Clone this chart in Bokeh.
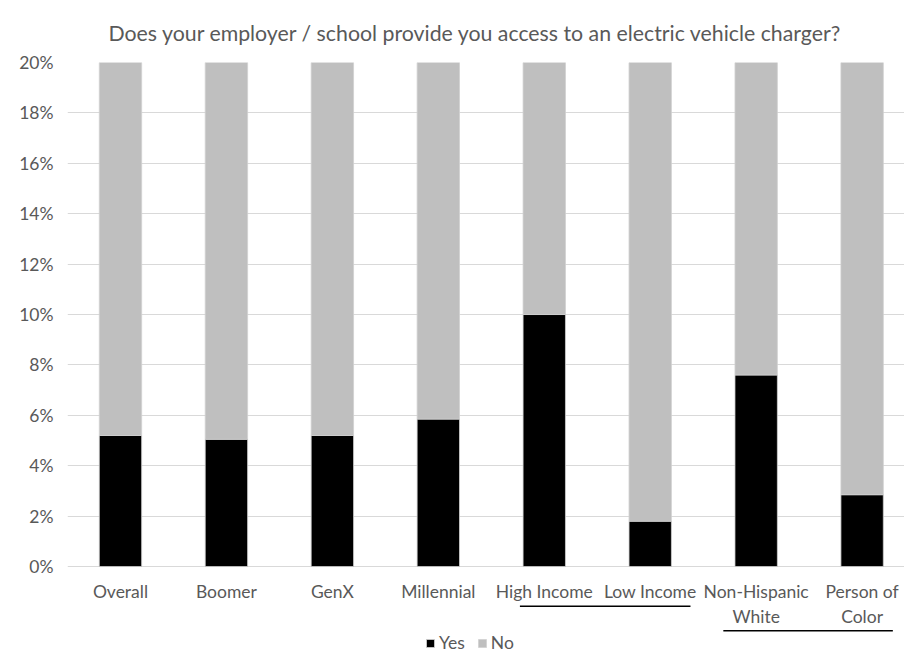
from bokeh.plotting import figure
from bokeh.models import (ColumnDataSource, Range1d, FixedTicker, Legend, LegendItem,
                          PrintfTickFormatter)
from bokeh.embed import file_html
from bokeh.resources import INLINE

categories = ["Overall", "Boomer", "GenX", "Millennial", "High Income",
              "Low Income", "Non-Hispanic\nWhite", "Person of\nColor"]
yes_pct = [5.2, 5.05, 5.2, 5.85, 10.0, 1.8, 7.6, 2.85]
no_pct = [100 - v for v in yes_pct]
y_ticks = [0, 2, 4, 6, 8, 10, 12, 14, 16, 18, 20]

FONT = "Lato"
TXT = "#595959"
GRID = "#d9d9d9"

xpos = [i + 0.5 for i in range(len(categories))]
src = ColumnDataSource(dict(x=xpos, yes=yes_pct, no=no_pct))

p = figure(width=904, height=653, output_backend="svg", toolbar_location=None,
           x_range=Range1d(0, 7.9), y_range=Range1d(-3.45, 20),
           min_border_left=67, min_border_right=0, min_border_top=62,
           min_border_bottom=0)

r = p.vbar_stack(["yes", "no"], x="x", width=0.4, source=src,
                 color=["#000000", "#bfbfbf"], line_color="#d0d0d0", line_width=0.8)

p.title.text = "Does your employer / school provide you access to an electric vehicle charger?"
p.title.align = "left"
p.title.offset = 41
p.title.text_font = FONT
p.title.text_font_size = "21.3px"
p.title.text_font_style = "normal"
p.title.text_color = TXT
p.title.standoff = 34
p.title.text_line_height = 1.0

p.outline_line_color = None
p.xgrid.grid_line_color = None
p.ygrid.grid_line_color = GRID
p.ygrid.grid_line_width = 1

p.yaxis.ticker = FixedTicker(ticks=y_ticks)
p.yaxis.formatter = PrintfTickFormatter(format="%d%%")
p.xaxis.ticker = FixedTicker(ticks=xpos)
p.xaxis.major_label_overrides = {x: c for x, c in zip(xpos, categories)}
p.xaxis.fixed_location = 0
for ax in (p.xaxis, p.yaxis):
    ax.axis_line_color = None
    ax.major_tick_line_color = None
    ax.minor_tick_line_color = None
    ax.major_tick_out = 0
    ax.major_tick_in = 0
    ax.major_label_text_font = FONT
    ax.major_label_text_font_size = "17.5px"
    ax.major_label_text_color = TXT
p.yaxis.major_label_standoff = 14
p.xaxis.major_label_standoff = 14

# underlines grouping the paired labels
p.segment(x0=[4.27, 6.19], y0=[-1.58, -2.55], x1=[5.88, 7.79], y1=[-1.58, -2.55],
          line_color="black", line_width=1.5)

legend = Legend(items=[LegendItem(label="Yes", renderers=[r[0]]),
                       LegendItem(label="No", renderers=[r[1]])],
                orientation="horizontal", location=(358, 0),
                label_text_font=FONT, label_text_font_size="17.5px",
                label_text_color=TXT, glyph_width=10, glyph_height=10,
                label_standoff=4, spacing=12, padding=0, margin=0,
                border_line_color=None, background_fill_alpha=0)
p.add_layout(legend, "center")

open("out.html", "w").write(file_html(p, INLINE))
